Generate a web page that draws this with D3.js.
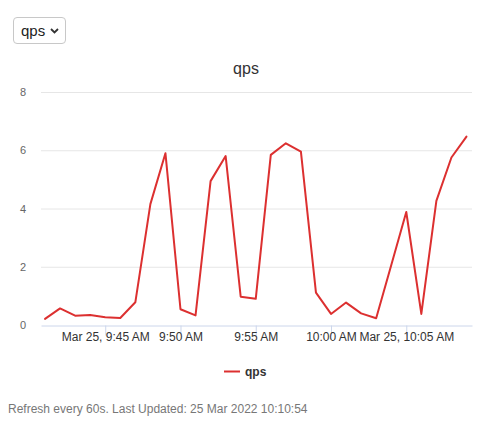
<!DOCTYPE html>
<html><head><meta charset="utf-8">
<script src="https://cdn.jsdelivr.net/npm/d3@7"></script>
<style>
body{margin:0;background:#fff;font-family:"Liberation Sans",Arial,sans-serif;}
#sel{position:absolute;left:13px;top:17px;width:53px;height:27px;box-sizing:border-box;border:1px solid #c8c8c8;border-radius:4px;font-size:15px;color:#222;padding-left:7px;line-height:25px;}
#sel svg{position:absolute;right:6px;top:10px;}
#foot{position:absolute;left:8px;top:402px;font-size:12px;color:#777;}
svg#chart{position:absolute;left:0;top:0;}
</style></head>
<body>
<div id="sel">qps<svg width="9" height="6"><path d="M1,1 L4.5,4.5 L8,1" fill="none" stroke="#333" stroke-width="1.8"/></svg></div>
<svg id="chart" width="492" height="400"></svg>
<div id="foot">Refresh every 60s. Last Updated: 25 Mar 2022 10:10:54</div>
<script>
const seriesName = "qps";
const startTime = "2022-03-25T09:41:00";
const stepMinutes = 1;
const qpsValues = [0.21,0.57,0.32,0.34,0.27,0.24,0.78,4.15,5.9,0.54,0.33,4.94,5.8,0.97,0.9,5.84,6.24,5.95,1.11,0.38,0.77,0.40,0.23,2.05,3.88,0.38,4.26,5.75,6.47];
const yTicks = [0,2,4,6,8];
const xTickTimes = ["2022-03-25T09:45:00","2022-03-25T09:50:00","2022-03-25T09:55:00","2022-03-25T10:00:00","2022-03-25T10:05:00"];
const xTickLabels = ["Mar 25, 9:45 AM","9:50 AM","9:55 AM","10:00 AM","Mar 25, 10:05 AM"];
const xDomain = ["2022-03-25T09:40:44","2022-03-25T10:09:22"];

const t0 = new Date(startTime);
const data = qpsValues.map((v,i)=>({t:new Date(t0.getTime()+i*stepMinutes*60000), v}));

const svg = d3.select("#chart");
const x = d3.scaleTime().domain(xDomain.map(d=>new Date(d))).range([41,472]);
const y = d3.scaleLinear().domain([0,8]).range([325,92]);

// gridlines
svg.append("g").selectAll("line").data(yTicks.filter(d=>d>0)).join("line")
  .attr("x1",41).attr("x2",472).attr("y1",d=>y(d)+0.5).attr("y2",d=>y(d)+0.5)
  .attr("stroke","#e6e6e6").attr("stroke-width",1);
// y labels
svg.append("g").selectAll("text").data(yTicks).join("text")
  .attr("x",26).attr("y",d=>y(d)+4).attr("text-anchor","end")
  .attr("font-size",11).attr("fill","#666").text(d=>d);
// x axis
const xa = svg.append("g").attr("transform","translate(0,325.5)")
  .call(d3.axisBottom(x).tickValues(xTickTimes.map(d=>new Date(d))).tickSize(10).tickSizeOuter(0)
    .tickFormat((d,i)=>xTickLabels[i]));
xa.select(".domain").attr("stroke","#ccd6eb");
xa.selectAll(".tick line").attr("stroke","#ccd6eb");
xa.selectAll(".tick text").attr("font-size",12).attr("fill","#333").attr("dy","0.3em")
  .attr("font-family","'Liberation Sans',Arial,sans-serif").attr("y",12);
// line
svg.append("path").datum(data)
  .attr("d",d3.line().x(d=>x(d.t)).y(d=>y(d.v)))
  .attr("fill","none").attr("stroke","#dc3030").attr("stroke-width",2).attr("stroke-linejoin","round").attr("stroke-linecap","round");
// title
svg.append("text").attr("x",246).attr("y",74).attr("text-anchor","middle")
  .attr("font-size",16).attr("fill","#333").text(seriesName);
// legend
const lg = svg.append("g");
lg.append("line").attr("x1",224).attr("x2",240).attr("y1",371.5).attr("y2",371.5).attr("stroke","#dc3030").attr("stroke-width",2);
lg.append("text").attr("x",245).attr("y",376).attr("font-size",12).attr("font-weight","bold").attr("fill","#333").text(seriesName);
</script>
</body></html>
